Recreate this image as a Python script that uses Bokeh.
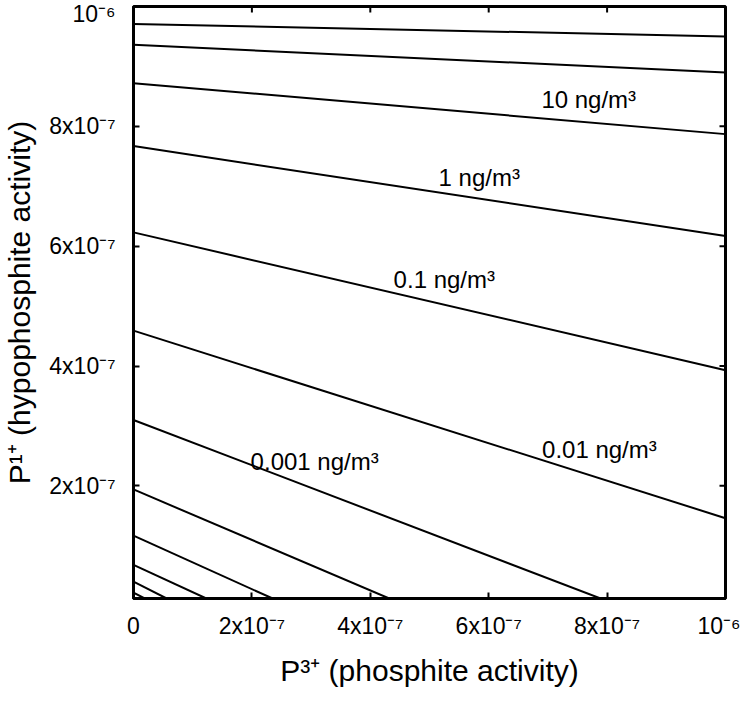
from bokeh.plotting import figure
from bokeh.models import Range1d, FixedTicker, ColumnDataSource
from bokeh.embed import file_html
from bokeh.resources import INLINE
from bokeh.core.properties import value

FONT = "Liberation Sans"

# axis ranges (activities)
x_start, x_end = 0.0, 1e-6
y_start, y_end = 1.2e-8, 1e-6

# ticks
x_ticks = [0, 2e-7, 4e-7, 6e-7, 8e-7, 1e-6]
x_tick_labels = ["0", "2x10⁻⁷", "4x10⁻⁷", "6x10⁻⁷", "8x10⁻⁷", "10⁻⁶"]
y_ticks = [2e-7, 4e-7, 6e-7, 8e-7, 1e-6]
y_tick_labels = ["2x10⁻⁷", "4x10⁻⁷", "6x10⁻⁷", "8x10⁻⁷", "10⁻⁶"]

# iso-concentration lines: start point and end point
line_x0 = [0, 0, 0, 0, 0, 0, 0, 0, 0, 0, 0, 0]
line_y0 = [9.71e-7, 9.36e-7, 8.72e-7, 7.67e-7, 6.23e-7, 4.59e-7,
           3.10e-7, 1.94e-7, 1.17e-7, 6.8e-8, 4.0e-8, 2.2e-8]
line_x1 = [1e-6, 1e-6, 1e-6, 1e-6, 1e-6, 1e-6,
           7.89e-7, 4.32e-7, 2.35e-7, 1.23e-7, 5.6e-8, 1.9e-8]
line_y1 = [9.50e-7, 8.90e-7, 7.87e-7, 6.17e-7, 3.93e-7, 1.46e-7,
           1.2e-8, 1.2e-8, 1.2e-8, 1.2e-8, 1.2e-8, 1.2e-8]

# contour labels
label_text = ["10 ng/m³", "1 ng/m³", "0.1 ng/m³", "0.01 ng/m³", "0.001 ng/m³"]
label_x = [7.69e-7, 5.84e-7, 5.25e-7, 7.87e-7, 3.06e-7]
label_y = [8.44e-7, 7.15e-7, 5.44e-7, 2.61e-7, 2.41e-7]

p = figure(width=740, height=689, output_backend="svg", toolbar_location=None,
           x_range=Range1d(x_start, x_end), y_range=Range1d(y_start, y_end),
           min_border_left=130, min_border_right=15, min_border_top=6,
           min_border_bottom=89)
p.grid.visible = False
p.outline_line_color = "black"
p.outline_line_width = 3
p.background_fill_color = "white"
p.border_fill_color = "white"

src = ColumnDataSource(dict(x0=line_x0, y0=line_y0, x1=line_x1, y1=line_y1))
p.segment("x0", "y0", "x1", "y1", source=src, line_color="black", line_width=2)

lsrc = ColumnDataSource(dict(x=label_x, y=label_y, t=label_text))
p.text("x", "y", text="t", source=lsrc, text_font=value(FONT), text_font_size="24px",
       text_align="center", text_baseline="middle", text_color="black")

# mirrored inward ticks on top and right edges
p.ray(x=x_ticks, y=[y_end] * len(x_ticks), length=6, length_units="screen",
      angle=-90, angle_units="deg", line_color="black", line_width=2)
p.ray(x=[x_end] * len(y_ticks), y=y_ticks, length=6, length_units="screen",
      angle=180, angle_units="deg", line_color="black", line_width=2)


def style(ax):
    ax.axis_line_width = 3
    ax.axis_line_color = "black"
    ax.major_tick_in = 6
    ax.major_tick_out = 0
    ax.major_tick_line_width = 2
    ax.minor_tick_line_color = None
    ax.major_label_text_font = FONT
    ax.axis_label_text_font = FONT
    ax.axis_label_text_font_style = "normal"
    ax.major_label_text_color = "black"
    ax.axis_label_text_color = "black"


xa = p.xaxis[0]
style(xa)
xa.ticker = FixedTicker(ticks=x_ticks)
xa.major_label_overrides = {t: l for t, l in zip(x_ticks, x_tick_labels)}
xa.major_label_text_font_size = "23px"
xa.major_label_standoff = 14
xa.axis_label = "P³⁺ (phosphite activity)"
xa.axis_label_text_font_size = "30px"
xa.axis_label_standoff = 12

ya = p.yaxis[0]
style(ya)
ya.ticker = FixedTicker(ticks=y_ticks)
ya.major_label_overrides = {t: l for t, l in zip(y_ticks, y_tick_labels)}
ya.major_label_text_font_size = "23px"
ya.major_label_standoff = 18
ya.axis_label = "P¹⁺ (hypophosphite activity)"
ya.axis_label_text_font_size = "30px"
ya.axis_label_standoff = 10

open("out.html", "w").write(file_html(p, INLINE))
